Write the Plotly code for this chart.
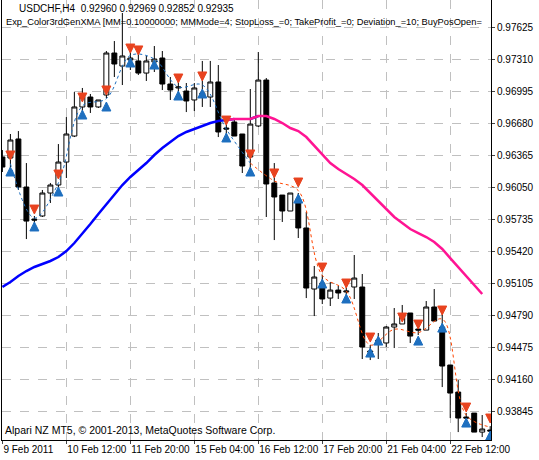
import plotly.graph_objects as go

idx = list(range(62))
opens = [0.96346,0.96336,0.96523,0.96050,0.95735,0.95765,0.95991,0.96070,0.96296,0.96552,
         0.96838,0.96936,0.96838,0.96956,0.97369,0.97241,0.97300,0.97291,0.97172,0.97281,
         0.97320,0.97064,0.97025,0.96995,0.96907,0.96976,0.96936,0.97084,0.96631,0.96690,
         0.96572,0.96346,0.96651,0.97103,0.96090,0.95971,0.95814,0.95932,0.95647,0.95046,
         0.95105,0.94957,0.95036,0.95017,0.95066,0.95066,0.94436,0.94544,0.94515,0.94672,
         0.94702,0.94810,0.94652,0.94642,0.94869,0.94672,0.94298,0.94032,0.93786,0.93825,
         0.93638,0.93658]
highs = [0.96414,0.96572,0.96601,0.96286,0.95765,0.96021,0.96090,0.96473,0.96739,0.96985,
         0.97025,0.96966,0.96907,0.97389,0.97487,0.97763,0.97379,0.97438,0.97340,0.97438,
         0.97389,0.97133,0.97084,0.97074,0.97074,0.97291,0.97291,0.97251,0.96670,0.96710,
         0.96572,0.97015,0.97379,0.97123,0.96286,0.95971,0.95991,0.95991,0.95804,0.95273,
         0.95184,0.95115,0.95076,0.95066,0.95381,0.95194,0.94495,0.94613,0.94682,0.94859,
         0.94889,0.94810,0.94692,0.94928,0.95046,0.94869,0.94298,0.94150,0.93825,0.93825,
         0.93806,0.93697]
lows = [0.96198,0.96218,0.96021,0.95538,0.95666,0.95755,0.95893,0.96050,0.96139,0.96542,
        0.96788,0.96779,0.96828,0.96926,0.97133,0.97054,0.97202,0.97153,0.97094,0.97182,
        0.97005,0.96907,0.96956,0.96788,0.96798,0.96838,0.96838,0.96542,0.96562,0.96552,
        0.96188,0.96158,0.96641,0.95755,0.95528,0.95706,0.95814,0.95548,0.94957,0.94780,
        0.94898,0.94879,0.94948,0.94957,0.94948,0.94357,0.94347,0.94357,0.94475,0.94465,
        0.94702,0.94515,0.94593,0.94642,0.94731,0.94081,0.93776,0.93638,0.93707,0.93638,
        0.93589,0.93619]
closes = [0.96247,0.96513,0.96050,0.95715,0.95725,0.95991,0.96070,0.96296,0.96572,0.96838,
          0.96936,0.96838,0.96907,0.97369,0.97261,0.97340,0.97320,0.97172,0.97291,0.97310,
          0.97064,0.97005,0.97035,0.96897,0.97025,0.96946,0.97084,0.96592,0.96621,0.96552,
          0.96257,0.96670,0.97103,0.96080,0.95952,0.95814,0.95991,0.95647,0.95056,0.95164,
          0.94948,0.95036,0.95007,0.95026,0.95154,0.94475,0.94426,0.94515,0.94672,0.94702,
          0.94800,0.94583,0.94642,0.94869,0.94731,0.94288,0.94022,0.93776,0.93776,0.93638,
          0.93668,0.93648]

slow_ma = [0.95066,0.95115,0.95174,0.95223,0.95263,0.95292,0.95322,0.95361,0.95420,0.95499,
           0.95588,0.95686,0.95784,0.95883,0.95981,0.96070,0.96149,0.96218,0.96286,0.96365,
           0.96434,0.96493,0.96552,0.96592,0.96621,0.96651,0.96680,0.96700,0.96710,0.96720,
           0.96720,0.96720,0.96749,0.96749,0.96720,0.96680,0.96631,0.96601,0.96542,0.96454,
           0.96365,0.96286,0.96227,0.96178,0.96129,0.96070,0.95991,0.95903,0.95824,0.95755,
           0.95696,0.95637,0.95597,0.95558,0.95509,0.95440,0.95351,0.95263,0.95174,0.95085,
           0.94997,None]
slow_pink_bars = [29, 30] + list(range(32, 61))

fast_x = [1,4,7,10,13,16,19,22,25,28,31,34,37,40,43,46,49,52,55,58,61]
fast_ma = [0.96280,0.95745,0.96090,0.96848,0.96920,0.97345,0.97310,0.97035,0.97055,0.96620,
           0.96286,0.96110,0.96015,0.95180,0.95026,0.94495,0.94650,0.94617,0.94750,0.93805,0.93688]
fast_blue_until = 31

sell_x = [1,4,7,10,13,16,17,22,25,28,31,34,37,40,43,46,50,52,55,58,61]
sell_y = [0.96316,0.95784,0.96129,0.96887,0.96956,0.97369,0.97350,0.97074,0.97094,0.96660,
          0.96326,0.96139,0.96050,0.95213,0.95056,0.94524,0.94721,0.94652,0.94790,0.93835,0.93727]
buy_x = [1,4,7,10,13,16,19,22,25,28,31,37,40,43,46,47,52,55,58,61]
buy_y = [0.96247,0.95706,0.96050,0.96808,0.96887,0.97320,0.97300,0.96995,0.97015,0.96582,
         0.96247,0.95981,0.95145,0.94997,0.94465,0.94583,0.94583,0.94711,0.93776,0.93648]

tick_pos = [0, 8, 16, 24, 32, 40, 48, 56]
tick_text = ["9 Feb 2011", "10 Feb 12:00", "11 Feb 20:00", "15 Feb 04:00", "16 Feb 12:00",
             "17 Feb 20:00", "21 Feb 04:00", "22 Feb 12:00"]
y_ticks = [0.97625, 0.97310, 0.96995, 0.96680, 0.96365, 0.96050, 0.95735, 0.95420,
           0.95105, 0.94790, 0.94475, 0.94160, 0.93845]

fig = go.Figure()
blue_y = [v if i <= 32 and not (i in slow_pink_bars and i - 1 in slow_pink_bars) else None
          for i, v in enumerate(slow_ma)]
pink_y = [v if (i in slow_pink_bars or i + 1 in slow_pink_bars) else None for i, v in enumerate(slow_ma)]
fig.add_trace(go.Scatter(x=idx, y=blue_y, mode="lines", line=dict(color="#0000ff", width=2.5), connectgaps=False))
fig.add_trace(go.Scatter(x=idx, y=pink_y, mode="lines", line=dict(color="#ff1493", width=2.5), connectgaps=False))

fb = [i for i, x in enumerate(fast_x) if x <= fast_blue_until]
fr = [i for i, x in enumerate(fast_x) if x >= fast_blue_until]
fig.add_trace(go.Scatter(x=[fast_x[i] for i in fb], y=[fast_ma[i] for i in fb], mode="lines",
                         line=dict(color="#1e6fbf", width=1, dash="dot", shape="spline")))
fig.add_trace(go.Scatter(x=[fast_x[i] for i in fr], y=[fast_ma[i] for i in fr], mode="lines",
                         line=dict(color="#ff4500", width=1, dash="dot", shape="spline")))

fig.add_trace(go.Candlestick(x=idx, open=opens, high=highs, low=lows, close=closes,
                             increasing=dict(line=dict(color="black", width=1), fillcolor="white"),
                             decreasing=dict(line=dict(color="black", width=1), fillcolor="black"),
                             whiskerwidth=0))

fig.add_trace(go.Scatter(x=sell_x, y=sell_y, mode="markers",
                         marker=dict(symbol="arrow-down", size=9, color="#e8431f",
                                     line=dict(color="#e8431f", width=1))))
fig.add_trace(go.Scatter(x=buy_x, y=buy_y, mode="markers",
                         marker=dict(symbol="arrow-up", size=9, color="#1e6fbf",
                                     line=dict(color="#1e6fbf", width=1))))

font = "Liberation Sans"
fig.update_layout(
    width=539, height=460, autosize=False, showlegend=False, boxgap=0.12,
    margin=dict(l=2, r=48, t=0, b=20, autoexpand=False),
    paper_bgcolor="white", plot_bgcolor="white",
    font=dict(family=font, size=10, color="black"),
    xaxis=dict(range=[-0.05, 61.1], tickmode="array", tickvals=tick_pos, ticktext=tick_text,
               tickangle=0, ticklabelposition="outside right", automargin=False,
               showgrid=True, gridcolor="#c0c0c0", griddash="dash", gridwidth=1,
               showline=True, linecolor="black", mirror=True, ticks="outside", ticklen=3,
               rangeslider=dict(visible=False), tickfont=dict(size=10)),
    yaxis=dict(range=[0.93560, 0.97891], side="right", tickmode="array", tickvals=y_ticks,
               ticktext=["%.5f" % v for v in y_ticks], automargin=False,
               showgrid=True, gridcolor="#c0c0c0", griddash="dash", gridwidth=1,
               showline=True, linecolor="black", mirror=True, ticks="outside", ticklen=3,
               tickfont=dict(size=10)),
    annotations=[
        dict(x=0.03, y=0.998, xref="paper", yref="paper", text="USDCHF,H4  0.92960 0.92969 0.92852 0.92935",
             showarrow=False, xanchor="left", yanchor="top", font=dict(size=10)),
        dict(x=0.005, y=0.965, xref="paper", yref="paper",
             text="Exp_Color3rdGenXMA [MM=0.10000000; MMMode=4; StopLoss_=0; TakeProfit_=0; Deviation_=10; BuyPosOpen=",
             showarrow=False, xanchor="left", yanchor="top", font=dict(size=9.3)),
        dict(x=0.002, y=0.005, xref="paper", yref="paper",
             text="Alpari NZ MT5, © 2001-2013, MetaQuotes Software Corp.",
             showarrow=False, xanchor="left", yanchor="bottom", font=dict(size=10.5)),
    ],
)
fig.write_html("out.html", config={"displayModeBar": False},
               post_script="document.body.style.margin='0';document.body.style.overflow='hidden';")
